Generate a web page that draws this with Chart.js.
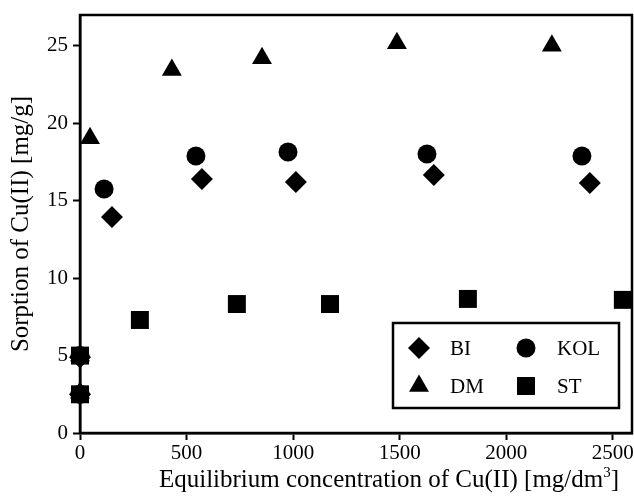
<!DOCTYPE html>
<html>
<head>
<meta charset="utf-8">
<script src="https://cdn.jsdelivr.net/npm/chart.js@4/dist/chart.umd.min.js"></script>
<style>
  html, body { margin: 0; padding: 0; background: #fff; }
  #wrap { width: 634px; height: 496px; }
</style>
</head>
<body>
<div id="wrap"><canvas id="sorp" width="634" height="496"></canvas></div>
<script>
// Sorpcia Cu(II) - rovnovazna koncentracia vs. sorpcia, 4 sorbenty
var seriesNames = ['BI', 'KOL', 'DM', 'ST'];
var seriesStyles = ['rectRot', 'circle', 'triangle', 'rect'];
var seriesRadius = [11, 9.5, 11.5, 12.7];

var biX  = [0, 0, 150, 572, 1013, 1660, 2392];
var biY  = [4.9, 2.5, 13.95, 16.41, 16.21, 16.67, 16.15];
var kolX = [0, 0, 113, 544, 976, 1628, 2355];
var kolY = [5.0, 2.5, 15.76, 17.89, 18.15, 18.02, 17.89];
var dmX  = [0, 0, 47, 431, 854, 1487, 2214];
var dmY  = [5.0, 2.6, 19.04, 23.45, 24.2, 25.17, 25.02];
var stX  = [0, 0, 281, 736, 1173, 1820, 2547];
var stY  = [5.0, 2.5, 7.3, 8.33, 8.33, 8.66, 8.6];

var xTicks = [0, 500, 1000, 1500, 2000, 2500];
var yTicks = [0, 5, 10, 15, 20, 25];

var xTitle = 'Equilibrium concentration of Cu(II) [mg/dm';
var xTitleSup = '3';
var yTitle = 'Sorption of Cu(II) [mg/g]';

function pts(xs, ys) {
    var out = [];
    for (var i = 0; i < xs.length; i++) out.push({ x: xs[i], y: ys[i] });
    return out;
}

var allX = [biX, kolX, dmX, stX];
var allY = [biY, kolY, dmY, stY];
var datasets = [];
for (var s = 0; s < seriesNames.length; s++) {
    datasets.push({
        label: seriesNames[s],
        data: pts(allX[s], allY[s]),
        pointStyle: seriesStyles[s],
        pointRadius: seriesRadius[s],
        pointHoverRadius: seriesRadius[s],
        backgroundColor: '#000',
        borderColor: '#000',
        borderWidth: 0,
        clip: false
    });
}

var serif = "'Liberation Serif', 'DejaVu Serif', serif";

// ram okolo celej plochy grafu
var frame = {
    id: 'frame',
    afterDraw: function (chart) {
        var a = chart.chartArea, c = chart.ctx;
        c.save();
        c.strokeStyle = '#000';
        c.lineWidth = 2.5;
        c.strokeRect(a.left, a.top, a.right - a.left, a.bottom - a.top);
        c.restore();
    }
};

// popis osi X s horným indexom (v origin\u00E1li posunut\u00FD doprava)
var xLabel = {
    id: 'xLabel',
    afterDraw: function (chart) {
        var a = chart.chartArea, c = chart.ctx;
        c.save();
        c.fillStyle = '#000';
        c.textBaseline = 'alphabetic';
        c.font = '25px ' + serif;
        var w1 = c.measureText(xTitle).width;
        c.font = '15px ' + serif;
        var w2 = c.measureText(xTitleSup).width;
        c.font = '25px ' + serif;
        var w3 = c.measureText(']').width;
        var cx = (a.left + a.right) / 2 + 33;
        var x0 = cx - (w1 + w2 + w3) / 2, base = 487;
        c.fillText(xTitle, x0, base);
        c.font = '15px ' + serif;
        c.fillText(xTitleSup, x0 + w1, base - 10);
        c.font = '25px ' + serif;
        c.fillText(']', x0 + w1 + w2, base);
        c.restore();
    }
};

// legenda v boxe vpravo dole (2 stlpce)
var boxLegend = {
    id: 'boxLegend',
    afterDraw: function (chart) {
        var a = chart.chartArea, c = chart.ctx;
        var w = 226, h = 85;
        var bx = a.right - 13 - w, by = a.bottom - 25 - h;
        c.save();
        c.fillStyle = '#fff';
        c.fillRect(bx, by, w, h);
        c.strokeStyle = '#000';
        c.lineWidth = 2.5;
        c.strokeRect(bx, by, w, h);
        c.font = '21px ' + serif;
        c.textBaseline = 'middle';
        c.textAlign = 'left';
        for (var i = 0; i < chart.data.datasets.length; i++) {
            var ds = chart.data.datasets[i];
            var col = i % 2, row = Math.floor(i / 2);
            var sx = bx + 26 + col * 107, sy = by + 25 + row * 38;
            c.fillStyle = '#000';
            c.strokeStyle = '#000';
            c.lineWidth = 0;
            Chart.helpers.drawPoint(c, { pointStyle: ds.pointStyle, radius: ds.pointRadius, borderWidth: 0, rotation: 0 }, sx, sy);
            c.fillText(ds.label, sx + 31, sy + 1);
        }
        c.restore();
    }
};

function plain(v) { return String(v); }

new Chart(document.getElementById('sorp'), {
    type: 'scatter',
    data: { datasets: datasets },
    options: {
        responsive: false,
        animation: false,
        layout: { autoPadding: false, padding: { top: 15, right: 2, left: 0, bottom: 0 } },
        plugins: { legend: { display: false }, tooltip: { enabled: false } },
        scales: {
            x: {
                type: 'linear', min: 0, max: 2590,
                afterFit: function (sc) { sc.height = 63; sc.paddingLeft = 0; sc.paddingRight = 0; },
                afterBuildTicks: function (sc) { sc.ticks = xTicks.map(function (v) { return { value: v }; }); },
                ticks: { color: '#000', font: { family: serif, size: 21 }, padding: 1, maxRotation: 0, callback: plain },
                grid: { drawOnChartArea: false, drawTicks: true, tickLength: 7, tickColor: '#000', tickWidth: 2 },
                border: { display: true, color: '#000', width: 2.5 },
                title: { display: false }
            },
            y: {
                type: 'linear', min: 0, max: 27,
                afterFit: function (sc) { sc.width = 80; sc.paddingTop = 0; sc.paddingBottom = 0; },
                afterBuildTicks: function (sc) { sc.ticks = yTicks.map(function (v) { return { value: v }; }); },
                ticks: { color: '#000', font: { family: serif, size: 21 }, padding: 5, callback: plain },
                grid: { drawOnChartArea: false, drawTicks: true, tickLength: 7, tickColor: '#000', tickWidth: 2 },
                border: { display: true, color: '#000', width: 2.5 },
                title: { display: true, text: yTitle, color: '#000', font: { family: serif, size: 25 }, padding: { top: 6, bottom: 0 } }
            }
        }
    },
    plugins: [frame, xLabel, boxLegend]
});
</script>
</body>
</html>
